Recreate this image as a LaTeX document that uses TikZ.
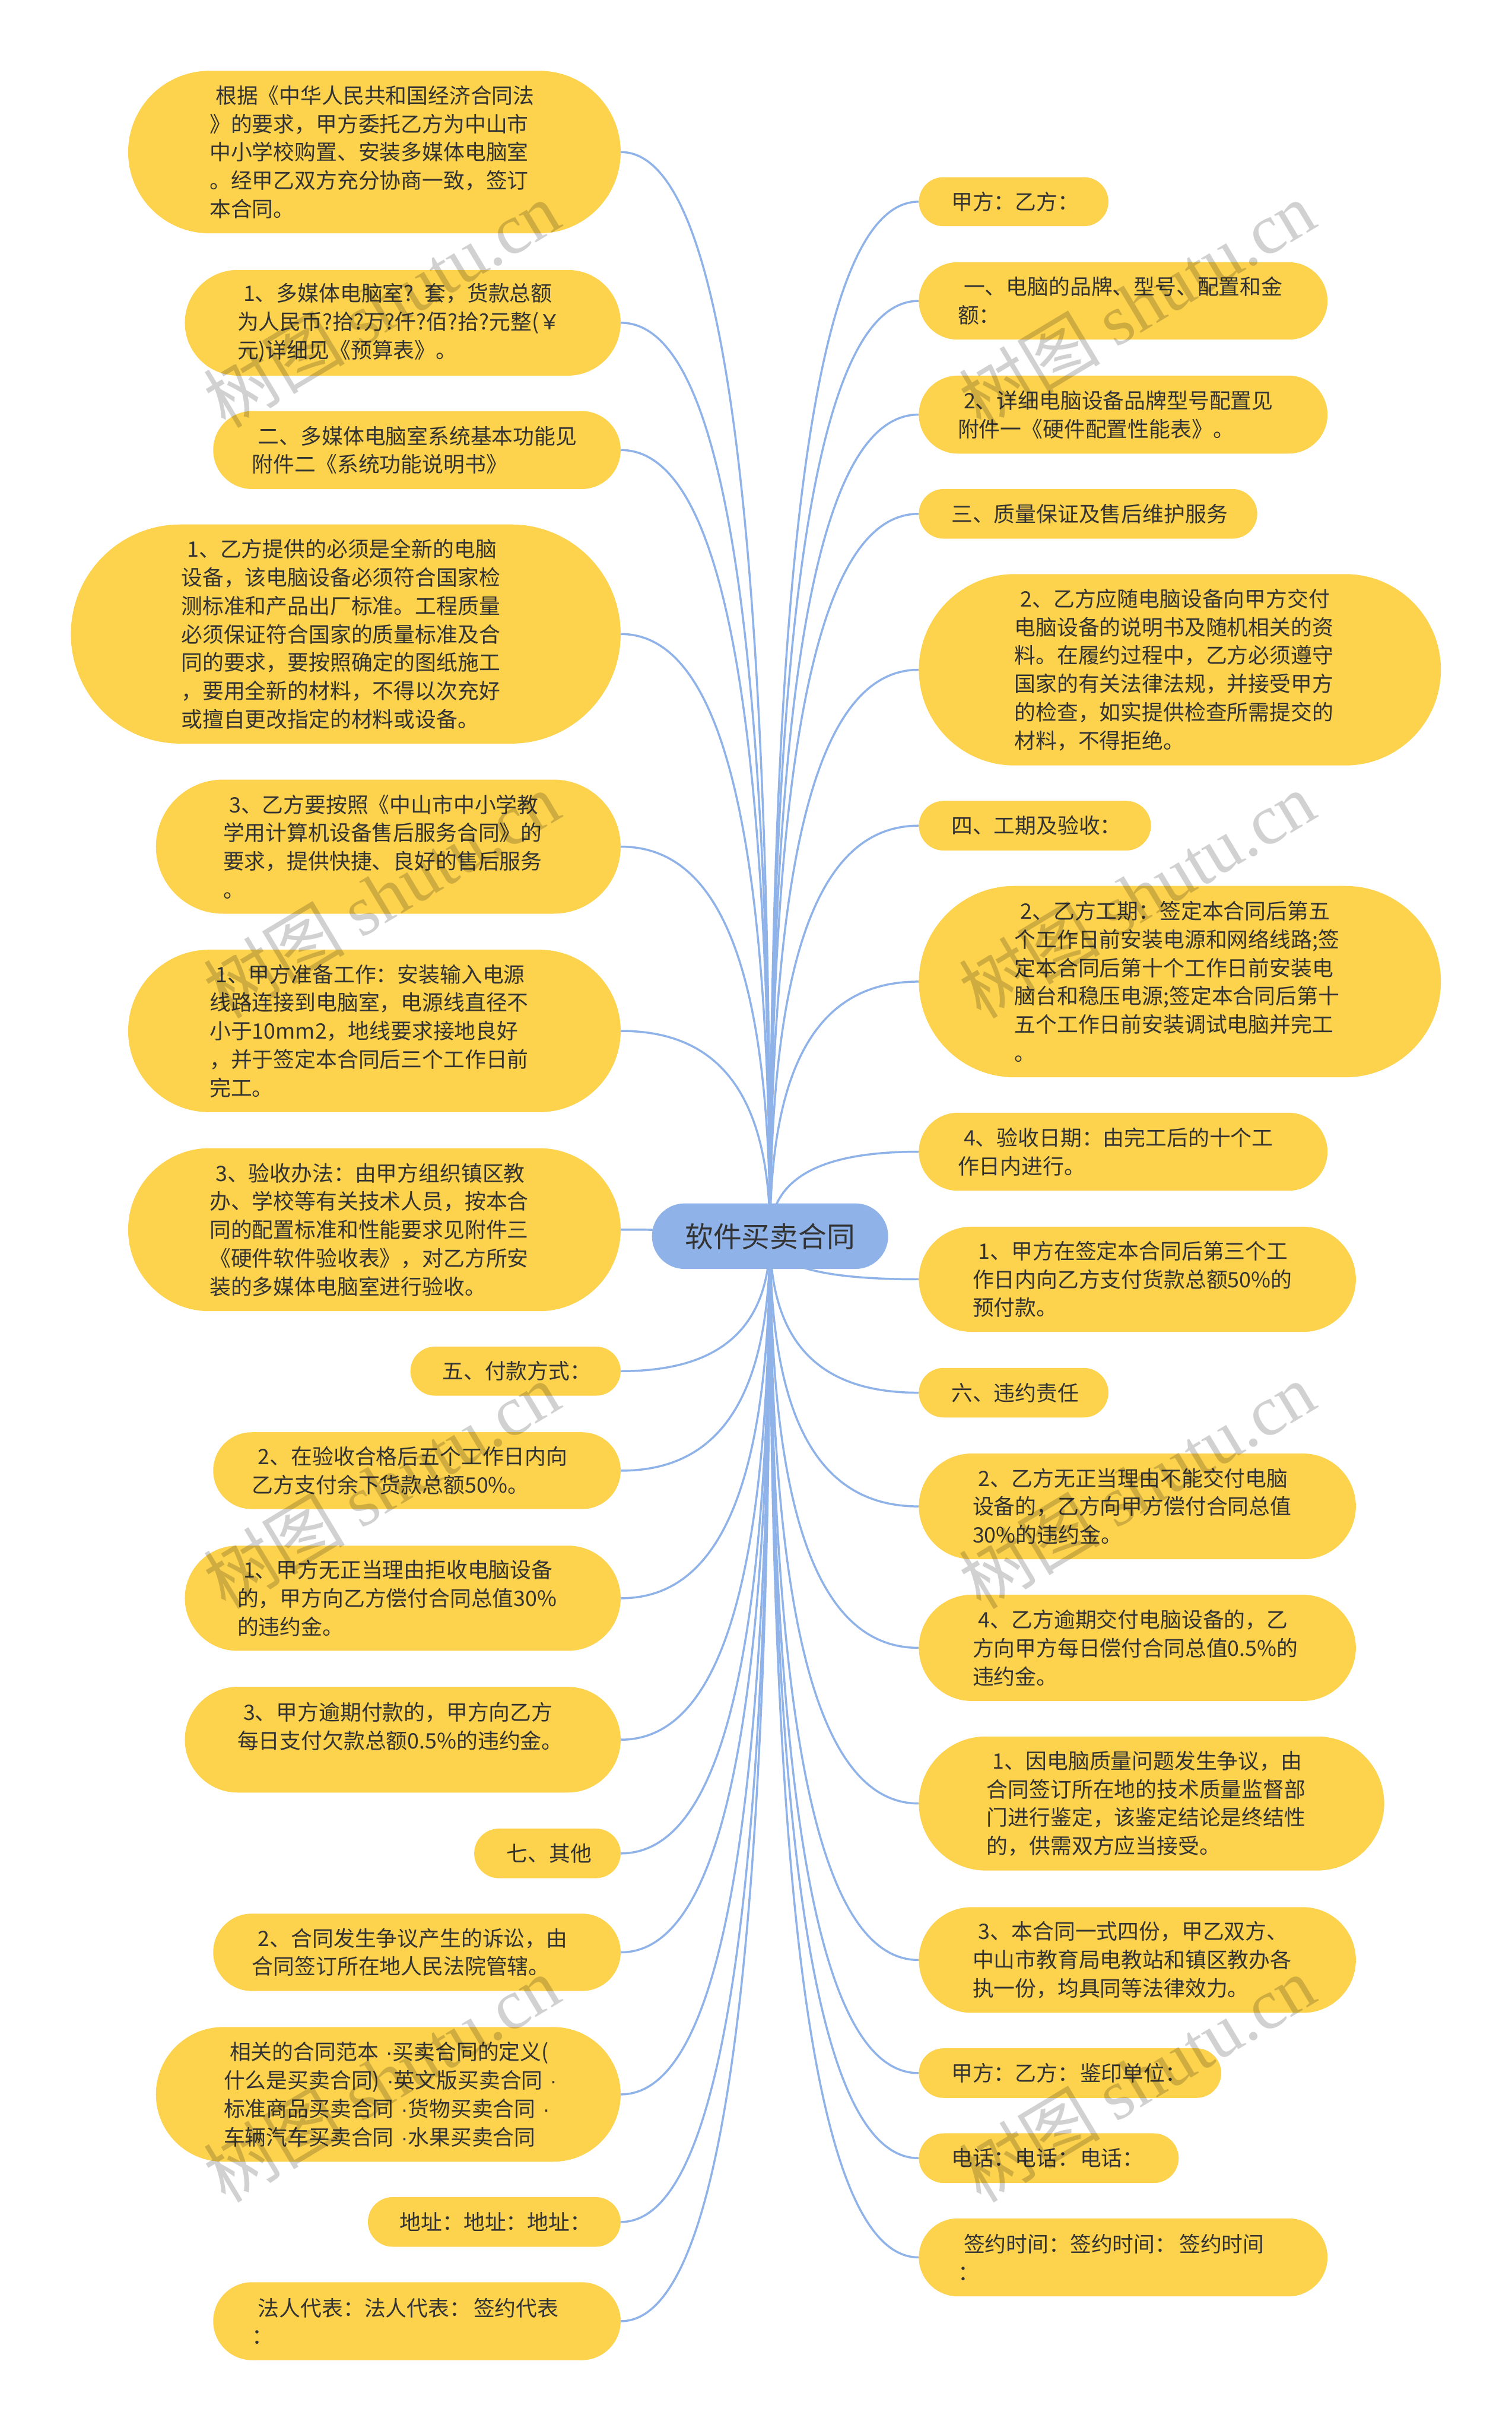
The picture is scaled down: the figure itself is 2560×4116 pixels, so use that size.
\documentclass[tikz,border=0pt]{standalone}
\usepackage{fontspec}
\usepackage{xcolor}
\usepackage{tikz}
\usetikzlibrary{calc,backgrounds}
\setmainfont{Noto Sans CJK SC}
\newfontfamily\markfont{Liberation Serif}
\newfontfamily\dotfont{Liberation Sans}
\definecolor{pillfill}{HTML}{FDD24D}
\definecolor{rootfill}{HTML}{8FB3E9}
\definecolor{linkcol}{HTML}{8FB3E9}
\definecolor{ink}{HTML}{333333}
\tikzset{
  pill/.style={rectangle,fill=pillfill,text=ink,inner xsep=0pt,inner ysep=0pt,align=left,
    font=\fontsize{18}{24}\selectfont},
  link/.style={color=linkcol,line width=1.75pt},
  markstyle/.style={rotate=31,text=black,opacity=0.18,font=\fontsize{60}{60}\selectfont}
}
\newcommand{\ind}{\hspace*{5pt}}
\newcommand{\mdot}{{\dotfont\ ·}}
% name, left, top, right, bottom, text margin, text
\newcommand{\Pill}[7]{%
  \pgfmathsetmacro{\pillw}{(#4-#2)/2}
  \pgfmathsetmacro{\pillh}{(#5-#3)/2}
  \pgfmathsetmacro{\pillr}{(#5-#3)/4}
  \node[pill,text width=\pillw pt,minimum height=\pillh pt,rounded corners=\pillr pt] (#1)
    at ({(#2+#4)/2},{(#3+#5)/2}) {\leftskip=#6pt\relax\noindent #7\par};
}
\newcommand{\LinkL}[1]{\draw[link] (#1.east) .. controls +(150,0) and ($(root.center |- #1.east)!.25!(root.center)$) .. (root.center);}
\newcommand{\LinkR}[1]{\draw[link] (#1.west) .. controls +(-150,0) and ($(root.center |- #1.west)!.25!(root.center)$) .. (root.center);}
\begin{document}
\begin{tikzpicture}[x=0.5pt,y=-0.5pt]
  \useasboundingbox (0,0) rectangle (2560,4116);
  % left side
  \Pill{la}{217}{120}{1051}{395}{69}{\ind 根据《中华人民共和国经济合同法\\》的要求，甲方委托乙方为中山市\\中小学校购置、安装多媒体电脑室\\。经甲乙双方充分协商一致，签订\\本合同。}
  \Pill{lb}{313}{457}{1051}{636}{44.5}{\ind 1、多媒体电脑室? 套，货款总额\\为人民币?拾?万?仟?佰?拾?元整(￥\\元)详细见《预算表》。}
  \Pill{lc}{361}{696}{1051}{828}{33}{\ind 二、多媒体电脑室系统基本功能见\\附件二《系统功能说明书》}
  \Pill{ld}{120}{888}{1051}{1259}{93.5}{\ind 1、乙方提供的必须是全新的电脑\\设备，该电脑设备必须符合国家检\\测标准和产品出厂标准。工程质量\\必须保证符合国家的质量标准及合\\同的要求，要按照确定的图纸施工\\，要用全新的材料，不得以次充好\\或擅自更改指定的材料或设备。}
  \Pill{le}{264}{1320}{1051}{1547}{57}{\ind 3、乙方要按照《中山市中小学教\\学用计算机设备售后服务合同》的\\要求，提供快捷、良好的售后服务\\。}
  \Pill{lf}{217}{1608}{1051}{1883}{69}{\ind 1、甲方准备工作：安装输入电源\\线路连接到电脑室，电源线直径不\\小于10mm2，地线要求接地良好\\，并于签定本合同后三个工作日前\\完工。}
  \Pill{lg}{217}{1944}{1051}{2220}{69}{\ind 3、验收办法：由甲方组织镇区教\\办、学校等有关技术人员，按本合\\同的配置标准和性能要求见附件三\\《硬件软件验收表》，对乙方所安\\装的多媒体电脑室进行验收。}
  \Pill{lh}{695}{2280}{1051}{2363}{27}{五、付款方式：}
  \Pill{li}{361}{2425}{1051}{2555}{33}{\ind 2、在验收合格后五个工作日内向\\乙方支付余下货款总额50\%。}
  \Pill{lj}{313}{2617}{1051}{2795}{44.5}{\ind 1、甲方无正当理由拒收电脑设备\\的，甲方向乙方偿付合同总值30\%\\的违约金。}
  \Pill{lk}{313}{2856}{1051}{3035}{44.5}{\ind 3、甲方逾期付款的，甲方向乙方\\每日支付欠款总额0.5\%的违约金。\\\mbox{}}
  \Pill{ll}{803}{3096}{1051}{3180}{27.5}{七、其他}
  \Pill{lm}{361}{3240}{1051}{3371}{33}{\ind 2、合同发生争议产生的诉讼，由\\合同签订所在地人民法院管辖。}
  \Pill{ln}{264}{3432}{1051}{3660}{57.5}{\ind 相关的合同范本\mdot 买卖合同的定义(\\什么是买卖合同)\mdot 英文版买卖合同\mdot\\标准商品买卖合同\mdot 货物买卖合同\mdot\\车辆汽车买卖合同\mdot 水果买卖合同}
  \Pill{lo}{623}{3720}{1051}{3804}{27}{地址：地址：地址：}
  \Pill{lp}{361}{3864}{1051}{3996}{33}{\ind 法人代表：法人代表：\hspace{2.5pt}签约代表\\：}
  % right side
  \Pill{ra}{1556}{300}{1877}{383}{27.5}{甲方：乙方：}
  \Pill{rb}{1556}{444}{2248}{575}{33}{\ind 一、电脑的品牌、型号、配置和金\\额：}
  \Pill{rc}{1556}{636}{2248}{768}{33}{\ind 2、详细电脑设备品牌型号配置见\\附件一《硬件配置性能表》。}
  \Pill{rd}{1556}{828}{2129}{912}{27.5}{三、质量保证及售后维护服务}
  \Pill{re}{1556}{972}{2440}{1296}{81}{\ind 2、乙方应随电脑设备向甲方交付\\电脑设备的说明书及随机相关的资\\料。在履约过程中，乙方必须遵守\\国家的有关法律法规，并接受甲方\\的检查，如实提供检查所需提交的\\材料，不得拒绝。}
  \Pill{rf}{1556}{1356}{1949}{1440}{27.5}{四、工期及验收：}
  \Pill{rg}{1556}{1500}{2440}{1824}{81}{\ind 2、乙方工期：签定本合同后第五\\个工作日前安装电源和网络线路;签\\定本合同后第十个工作日前安装电\\脑台和稳压电源;签定本合同后第十\\五个工作日前安装调试电脑并完工\\。}
  \Pill{rh}{1556}{1884}{2248}{2016}{33}{\ind 4、验收日期：由完工后的十个工\\作日内进行。}
  \Pill{ri}{1556}{2077}{2296}{2255}{45.5}{\ind 1、甲方在签定本合同后第三个工\\作日内向乙方支付货款总额50\%的\\预付款。}
  \Pill{rj}{1556}{2316}{1877}{2400}{27.5}{六、违约责任}
  \Pill{rk}{1556}{2461}{2296}{2640}{45.5}{\ind 2、乙方无正当理由不能交付电脑\\设备的，乙方向甲方偿付合同总值\\30\%的违约金。}
  \Pill{rl}{1556}{2700}{2296}{2880}{45.5}{\ind 4、乙方逾期交付电脑设备的，乙\\方向甲方每日偿付合同总值0.5\%的\\违约金。}
  \Pill{rm}{1556}{2940}{2344}{3167}{57.5}{\ind 1、因电脑质量问题发生争议，由\\合同签订所在地的技术质量监督部\\门进行鉴定，该鉴定结论是终结性\\的，供需双方应当接受。}
  \Pill{rn}{1556}{3229}{2296}{3408}{45.5}{\ind 3、本合同一式四份，甲乙双方、\\中山市教育局电教站和镇区教办各\\执一份，均具同等法律效力。}
  \Pill{ro}{1556}{3468}{2068}{3552}{27.5}{甲方：乙方：\hspace{1pt}鉴印单位：}
  \Pill{rp}{1556}{3612}{1996}{3696}{27.5}{电话：电话：\hspace{1pt}电话：}
  \Pill{rq}{1556}{3756}{2248}{3888}{33}{\ind 签约时间：签约时间：\hspace{2.5pt}签约时间\\：}
  % centre
  \node[pill,fill=rootfill,align=center,text width=200pt,minimum height=55.5pt,rounded corners=27.7pt,
    font=\fontsize{24}{28}\selectfont] (root) at (1304,2093) {软件买卖合同};
  % connectors under the pills
  \begin{scope}[on background layer]
    \foreach \n in {la,lb,lc,ld,le,lf,lg,lh,li,lj,lk,ll,lm,ln,lo,lp} {\LinkL{\n}}
    \foreach \n in {ra,rb,rc,rd,re,rf,rg,rh,ri,rj,rk,rl,rm,rn,ro,rp,rq} {\LinkR{\n}}
  \end{scope}
  % watermarks
  \foreach \x/\y [count=\i] in {646/515,646/1515,646/2515,646/3520,1925/515,1925/1515,1925/2515,1925/3520} {
    \node[markstyle] (mark\i) at (\x,\y) {树图 {\markfont shutu.cn}};
  }
\end{tikzpicture}
\end{document}
